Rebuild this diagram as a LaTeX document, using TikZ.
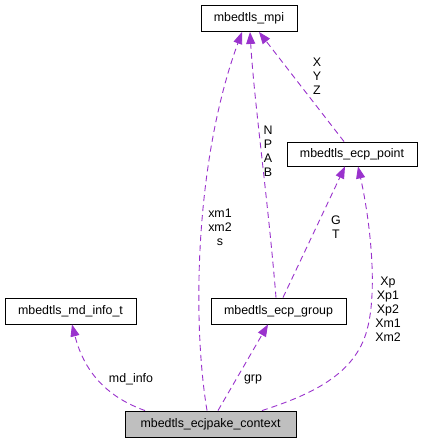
\documentclass[tikz,border=0pt]{standalone}
\usepackage{fontspec}
\setmainfont{Liberation Sans}
\usetikzlibrary{arrows.meta}
\definecolor{edgec}{HTML}{9A32CD}
\definecolor{ctxfill}{HTML}{BFBFBF}
\begin{document}
\begin{tikzpicture}[x=1pt,y=-1pt,
  box/.style={draw=black,line width=0.9pt,fill=white,inner sep=0pt,minimum height=26pt,font=\fontsize{12.4}{14}\selectfont},
  usage/.style={draw=edgec,line width=0.9pt,dash pattern=on 6pt off 4pt,-{Triangle[length=12pt,width=9pt,fill=edgec]}},
  lbl/.style={inner sep=0pt,align=center,font=\fontsize{12.4}{14}\selectfont}]
\useasboundingbox (0,0) rectangle (423,443);
\fill[white] (0,0) rectangle (423,443);
% nodes
\node[box,minimum width=96pt] (mpi) at (249,18.5) {mbedtls\_mpi};
\node[box,minimum width=130pt,minimum height=24pt] (pt) at (352,154) {mbedtls\_ecp\_point};
\node[box,minimum width=131pt] (md) at (70.5,311) {mbedtls\_md\_info\_t};
\node[box,minimum width=135pt] (grp) at (278.5,311) {mbedtls\_ecp\_group};
\node[box,minimum width=171pt,fill=ctxfill] (ctx) at (210.5,424) {mbedtls\_ecjpake\_context};
% edges
\draw[usage] ([xshift=-65.5pt]ctx.north) .. controls (110,398) and (85,375) .. ([xshift=1.5pt]md.south);
\draw[usage] ([xshift=-3.5pt]ctx.north) .. controls (192,320) and (195,160) .. ([xshift=-7pt]mpi.south);
\draw[usage] ([xshift=7.5pt]ctx.north) -- ([xshift=-10.5pt]grp.south);
\draw[usage] ([xshift=51.5pt]ctx.north) .. controls (310,395) and (355,375) .. (367,330) .. controls (378,290) and (370,220) .. ([xshift=6pt]pt.south);
\draw[usage] ([xshift=4.5pt]grp.north) -- ([xshift=-7pt]pt.south);
\draw[usage] ([xshift=-2.5pt]grp.north) .. controls (268,200) and (254,100) .. ([xshift=1pt]mpi.south);
\draw[usage] ([xshift=-8pt]pt.north) -- ([xshift=10pt]mpi.south);
% labels
\node[lbl] (lxyz) at (317,76) {X\\Y\\Z};
\node[lbl] (lnpab) at (268,151) {N\\P\\A\\B};
\node[lbl] (lxm) at (220,227) {xm1\\xm2\\s};
\node[lbl] (lgt) at (336,227) {G\\T};
\node[lbl] (lxp) at (388,309) {Xp\\Xp1\\Xp2\\Xm1\\Xm2};
\node[lbl] (lmd) at (131,379) {md\_info};
\node[lbl] (lgrp) at (253,379) {grp};
\end{tikzpicture}
\end{document}
